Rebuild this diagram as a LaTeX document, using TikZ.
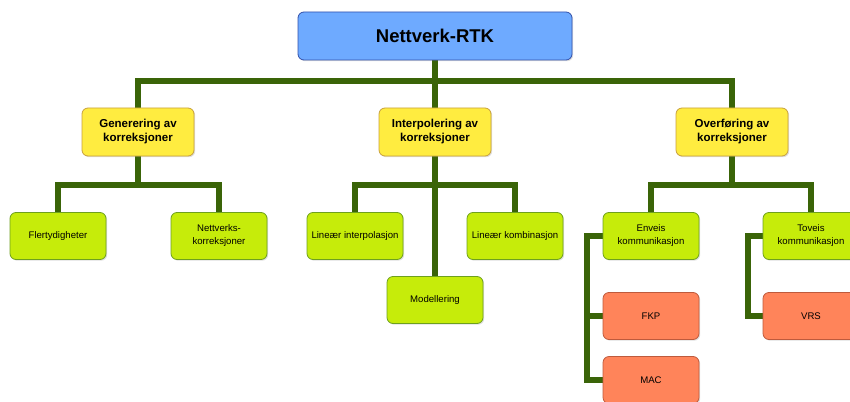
\documentclass[tikz,border=0pt]{standalone}
\usepackage{fontspec}
\setmainfont{Liberation Sans}
\usetikzlibrary{shadows,backgrounds}
\definecolor{rootfill}{RGB}{110,170,255}
\definecolor{rootdraw}{RGB}{50,80,170}
\definecolor{yfill}{RGB}{255,236,64}
\definecolor{ydraw}{RGB}{200,160,60}
\definecolor{gfill}{RGB}{198,236,10}
\definecolor{gdraw}{RGB}{110,160,30}
\definecolor{sfill}{RGB}{255,132,90}
\definecolor{sdraw}{RGB}{190,90,60}
\definecolor{conncol}{RGB}{58,100,8}
\tikzset{
  basebox/.style={draw, rounded corners=6pt, line width=0.8pt, align=center, inner sep=1pt,
    drop shadow={opacity=0.25, shadow xshift=1.2pt, shadow yshift=-1.2pt}},
  rootbox/.style={basebox, fill=rootfill, draw=rootdraw, minimum width=274pt, minimum height=48pt,
    font=\fontsize{18.5}{20}\selectfont\bfseries},
  ybox/.style={basebox, fill=yfill, draw=ydraw, minimum width=112pt, minimum height=48pt,
    font=\fontsize{11.5}{14}\selectfont\bfseries},
  gbox/.style={basebox, fill=gfill, draw=gdraw, minimum width=96pt, minimum height=47pt,
    font=\fontsize{9.6}{13}\selectfont},
  sbox/.style={basebox, fill=sfill, draw=sdraw, minimum width=96pt, minimum height=47pt,
    font=\fontsize{9.6}{13}\selectfont},
  conn/.style={draw=conncol, line width=6pt, line join=miter}
}
\begin{document}
\begin{tikzpicture}[x=1pt,y=-1pt]
\useasboundingbox (0,0) rectangle (850,401);
\node[rootbox] (root) at (435,36) {Nettverk-RTK};
\node[ybox] (gen) at (138,132) {Generering av\\korreksjoner};
\node[ybox] (int) at (435,132) {Interpolering av\\korreksjoner};
\node[ybox] (ovr) at (732,132) {Overføring av\\korreksjoner};
\node[gbox] (fler) at (58,236) {Flertydigheter};
\node[gbox] (nett) at (219,236) {Nettverks-\\korreksjoner};
\node[gbox] (linint) at (355,236) {Lineær interpolasjon};
\node[gbox] (linkomb) at (515,236) {Lineær kombinasjon};
\node[gbox] (mod) at (435,300) {Modellering};
\node[gbox] (env) at (651,236) {Enveis\\kommunikasjon};
\node[gbox] (tov) at (811,236) {Toveis\\kommunikasjon};
\node[sbox] (fkp) at (651,316) {FKP};
\node[sbox] (mac) at (651,380) {MAC};
\node[sbox] (vrs) at (811,316) {VRS};
\coordinate (j0) at (435,81);
\coordinate (j1) at (138,185);
\coordinate (j2) at (435,185);
\coordinate (j3) at (732,185);
\coordinate (e1) at (587,236);
\coordinate (t1) at (748,236);
\begin{scope}[on background layer]
\draw[conn] (root.south) -- (j0) -| (gen.north);
\draw[conn] (j0) -| (ovr.north);
\draw[conn] (j0) -- (int.north);
\draw[conn] (gen.south) -- (j1) -| (fler.north);
\draw[conn] (j1) -| (nett.north);
\draw[conn] (int.south) -- (mod.north);
\draw[conn] (j2) -| (linint.north);
\draw[conn] (j2) -| (linkomb.north);
\draw[conn] (ovr.south) -- (j3) -| (env.north);
\draw[conn] (j3) -| (tov.north);
\draw[conn] (env.west) -- (e1) |- (mac.west);
\draw[conn] (e1) |- (fkp.west);
\draw[conn] (tov.west) -- (t1) |- (vrs.west);
\end{scope}
\end{tikzpicture}
\end{document}
